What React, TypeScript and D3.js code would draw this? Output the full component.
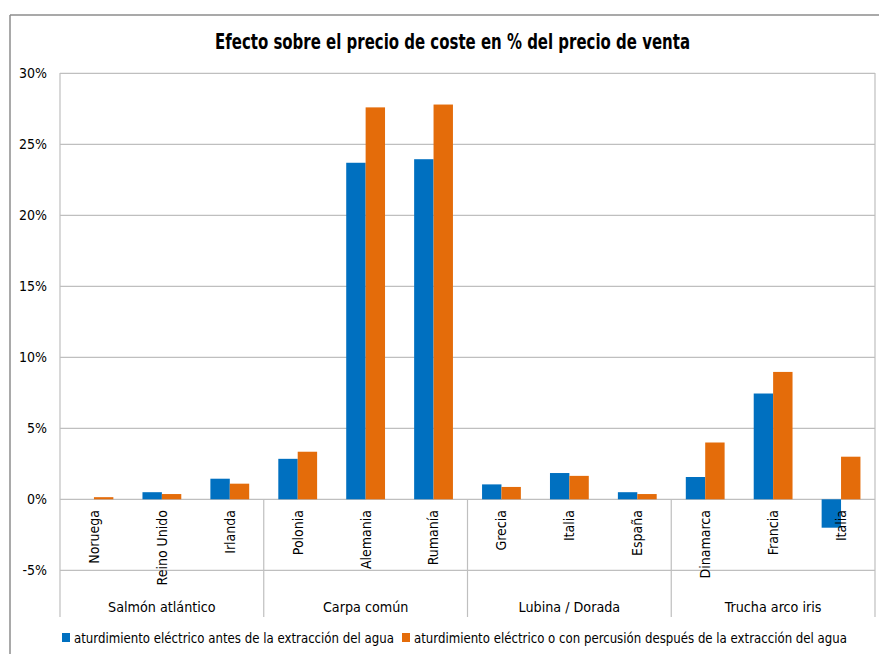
import React from "react";
import * as d3 from "d3";

const groups = ["Salmón atlántico", "Carpa común", "Lubina / Dorada", "Trucha arco iris"];
const countries = [
  ["Noruega", "Reino Unido", "Irlanda"],
  ["Polonia", "Alemania", "Rumanía"],
  ["Grecia", "Italia", "España"],
  ["Dinamarca", "Francia", "Italia"],
];
const seriesNames = [
  "aturdimiento eléctrico antes de la extracción del agua",
  "aturdimiento eléctrico o con percusión después de la extracción del agua",
];
const beforeValues = [0, 0.5, 1.45, 2.85, 23.7, 23.95, 1.05, 1.85, 0.5, 1.57, 7.45, -2.0];
const afterValues = [0.15, 0.37, 1.1, 3.35, 27.6, 27.8, 0.87, 1.65, 0.37, 4.0, 8.97, 3.0];
const yTicks = [-5, 0, 5, 10, 15, 20, 25, 30];

const COLORS = ["#0070C0", "#E46C0A"];
const FONT = "'Liberation Sans Narrow', 'DejaVu Sans Condensed', 'Open Sans', sans-serif";

export default function App() {
  const W = 879, H = 654;
  const left = 60, right = 875, top = 73;
  const y = d3.scaleLinear().domain([-5, 30]).range([570.3, 73.3]);
  const cats = countries.flat().map((c, i) => `${i}|${c}`);
  const x = d3.scaleBand().domain(cats).range([left, right]).paddingInner(0).paddingOuter(0);
  const bw = x.bandwidth();
  const barW = bw / 3.5;
  const gridColor = "#BFBFBF";
  const y0 = y(0);
  const catBottom = 617;
  const groupW = (right - left) / groups.length;

  return (
    <svg width={W} height={H} style={{ position: "absolute", left: 0, top: 0, fontFamily: FONT }}>
      <rect x={0} y={0} width={W} height={H} fill="#fff" />
      {/* outer frame */}
      <line x1={10} y1={15} x2={W} y2={15} stroke="#8c8c8c" strokeWidth={1.5} />
      <line x1={10} y1={15} x2={10} y2={H} stroke="#8c8c8c" strokeWidth={1.5} />
      <text x={215} y={49} fontSize={21} fontWeight="bold" fill="#000" textLength={475} lengthAdjust="spacingAndGlyphs">
        Efecto sobre el precio de coste en % del precio de venta
      </text>
      {/* gridlines */}
      {yTicks.map((t) => (
        <line key={t} x1={left} x2={right} y1={y(t)} y2={y(t)} stroke={gridColor} strokeWidth={1.2} />
      ))}
      {yTicks.map((t) => (
        <text key={"l" + t} x={47} y={y(t)} dy="0.35em" textAnchor="end" fontSize={14} fill="#000">
          {t}%
        </text>
      ))}
      {/* plot border */}
      <line x1={left} x2={left} y1={top} y2={catBottom} stroke={gridColor} strokeWidth={1.2} />
      <line x1={right} x2={right} y1={top} y2={catBottom} stroke={gridColor} strokeWidth={1.2} />
      {/* group separators */}
      {d3.range(1, groups.length).map((g) => (
        <line key={"s" + g} x1={left + g * groupW} x2={left + g * groupW} y1={y0} y2={catBottom} stroke={gridColor} strokeWidth={1.2} />
      ))}
      {/* bars */}
      {cats.map((c, i) => {
        const cx = (x(c) as number) + bw / 2;
        const vals = [beforeValues[i], afterValues[i]];
        return vals.map((v, s) => (
          <rect
            key={c + s}
            x={cx - barW + s * barW}
            y={Math.min(y(v), y0)}
            width={barW}
            height={Math.abs(y(v) - y0)}
            fill={COLORS[s]}
          />
        ));
      })}
      {/* category labels */}
      {cats.map((c) => {
        const cx = (x(c) as number) + bw / 2;
        const label = c.split("|")[1];
        return (
          <text
            key={"c" + c}
            transform={`translate(${cx},510) rotate(-90)`}
            textAnchor="end"
            dy="0.35em"
            fontSize={14}
            fill="#000"
          >
            {label}
          </text>
        );
      })}
      {groups.map((g, i) => (
        <text key={g} x={left + groupW * (i + 0.5)} y={607} dy="0.35em" textAnchor="middle" fontSize={14.2} fill="#000">
          {g}
        </text>
      ))}
      {/* legend */}
      <rect x={62} y={633} width={8} height={9} fill={COLORS[0]} />
      <text x={74} y={638} dy="0.35em" fontSize={14} fill="#000" textLength={320} lengthAdjust="spacingAndGlyphs">{seriesNames[0]}</text>
      <rect x={402} y={633} width={8} height={9} fill={COLORS[1]} />
      <text x={414} y={638} dy="0.35em" fontSize={14} fill="#000" textLength={433} lengthAdjust="spacingAndGlyphs">{seriesNames[1]}</text>
    </svg>
  );
}
